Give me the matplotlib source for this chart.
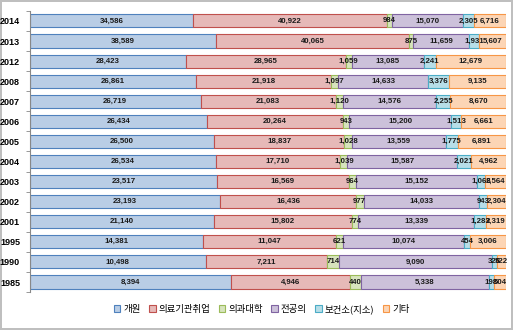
import matplotlib.pyplot as plt
import numpy as np

plt.rcParams['font.family'] = ['Noto Sans CJK KR', 'DejaVu Sans']

years = ['2014', '2013', '2012', '2008', '2007', '2006', '2005', '2004',
         '2003', '2002', '2001', '1995', '1990', '1985']
categories = ['개원', '의료기관취업', '의과대학', '전공의', '보건소(지소)', '기타']

gaewon = [34586, 38589, 28423, 26861, 26719, 26434, 26500, 26534, 23517, 23193, 21140, 14381, 10498, 8394]
hospital = [40922, 40065, 28965, 21918, 21083, 20264, 18837, 17710, 16569, 16436, 15802, 11047, 7211, 4946]
college = [984, 875, 1059, 1097, 1120, 943, 1028, 1039, 964, 977, 774, 621, 714, 440]
resident = [15070, 11659, 13085, 14633, 14576, 15200, 13559, 15587, 15152, 14033, 13339, 10074, 9090, 5338]
health = [2305, 1931, 2241, 3376, 2255, 1513, 1775, 2021, 1066, 943, 1283, 454, 326, 198]
other = [6716, 5607, 12679, 9135, 8670, 6661, 6891, 4962, 2564, 2304, 2319, 3006, 522, 504]

fills = ['#B9CDE5', '#E6B9B8', '#D7E4BD', '#CCC1DA', '#B7DEE8', '#FCD5B5']
edges = ['#4F81BD', '#C0504D', '#9BBB59', '#8064A2', '#4BACC6', '#F79646']

series = np.array([gaewon, hospital, college, resident, health, other], dtype=float)
totals = series.sum(axis=0)
shares = series / totals

narrow = ['Liberation Sans Narrow', 'Liberation Sans']

fig = plt.figure(figsize=(5.13, 3.30), dpi=100)
fig.patch.set_edgecolor('#BFBFBF')
fig.patch.set_linewidth(1.5)
ax = fig.add_axes([0.058, 0.115, 0.928, 0.852])

y = np.arange(len(years))
left = np.zeros(len(years))
for i, cat in enumerate(categories):
    ax.barh(y, shares[i], left=left, height=0.65, color=fills[i],
            edgecolor=edges[i], linewidth=0.8, label=cat)
    for j in range(len(years)):
        ax.text(left[j] + shares[i][j] / 2, y[j], f'{int(series[i][j]):,}',
                ha='center', va='center', fontsize=5.7, fontweight='bold',
                family=narrow, color='#1a1a1a')
    left += shares[i]

ax.set_ylim(len(years) - 0.5, -0.5)
ax.set_xlim(0, 1)
ax.set_yticks(y)
ax.set_yticklabels(years, fontsize=6.5, fontweight='bold', family=narrow)
ax.set_yticks(np.arange(-0.5, len(years)), minor=True)
ax.tick_params(axis='y', which='major', length=0, pad=7)
ax.tick_params(axis='y', which='minor', length=3, color='#888888')
ax.set_xticks([])
for s in ['top', 'right', 'bottom']:
    ax.spines[s].set_visible(False)
ax.spines['left'].set_color('#888888')
ax.spines['left'].set_linewidth(0.8)

ax.legend(loc='center', bbox_to_anchor=(0.487, -0.06), ncol=6, frameon=False,
          fontsize=6.8, handlelength=0.7, handleheight=0.7, handletextpad=0.3,
          columnspacing=0.9)

fig.savefig('out.png', dpi=100, edgecolor=fig.get_edgecolor())
